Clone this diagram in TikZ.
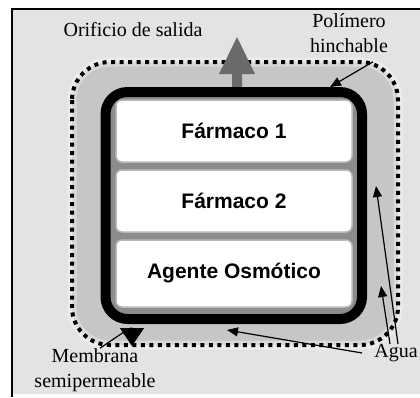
\documentclass[tikz,border=0pt]{standalone}
\usepackage{fontspec}
\setmainfont{Liberation Serif}
\setsansfont{Liberation Sans}
\usetikzlibrary{arrows.meta}
\definecolor{salida}{HTML}{6A6A6A}
\begin{document}
\begin{tikzpicture}[x=1pt,y=-1pt,
  farmaco/.style={draw=gray!55,line width=1.5pt,fill=white,rounded corners=6pt,minimum width=236pt,inner sep=0pt,font=\sffamily\bfseries\fontsize{21}{21}\selectfont},
  etiqueta/.style={font=\fontsize{20}{25}\selectfont,align=center,inner sep=0pt},
  flecha/.style={line width=1.2pt,-{Triangle[length=11pt,width=9pt]}}]
\useasboundingbox (0,0) rectangle (420,397);
\clip (0,0) rectangle (420,397);
\fill[gray!22] (12,9) rectangle (420,394);
\draw[line width=1.5pt] (12,397) |- (420,9);
\fill[gray!45,rounded corners=38pt] (72,62) rectangle (398,345);
\draw[white,opacity=.35,line width=9pt,rounded corners=38pt] (72,62) rectangle (398,345);
\draw[line width=4pt,dash pattern=on 4pt off 4.5pt,rounded corners=38pt] (72,62) rectangle (398,345);
\fill[salida] (232,89) -- (232,74) -- (219,74) -- (237,37) -- (255,74) -- (242,74) -- (242,89) -- cycle;
\draw[line width=10pt,fill=gray!90,rounded corners=22pt] (105.5,92) rectangle (362,319);
\node[farmaco,minimum height=62pt] (f1) at (234,131) {Fármaco 1};
\node[farmaco,minimum height=62pt] (f2) at (234,201) {Fármaco 2};
\node[farmaco,minimum height=67pt] (f3) at (234,273.5) {Agente Osmótico};
\node[etiqueta] (orificio) at (133,30) {Orificio de salida};
\node[etiqueta] (polimero) at (349,33) {Polímero\\hinchable};
\node[etiqueta] (membrana) at (95,370) {Membrana\\semipermeable};
\node[etiqueta] (agua) at (396,353) {Agua};
\coordinate (esquina) at (330,87);
\coordinate (poro) at (132,346);
\coordinate (fondo) at (227,330);
\coordinate (lado) at (381,286);
\coordinate (arriba) at (376,186);
\draw[flecha] ([shift={(-15,9)}]polimero.south east) -- (esquina);
\draw[flecha,-{Triangle[length=18pt,width=24pt]}] ([xshift=5pt]membrana.north) .. controls (118,336) and (132,326) .. (poro);
\draw[flecha] ([xshift=-12pt]agua.west) -- (fondo);
\draw[flecha] ([xshift=-6pt]agua.north) -- (lado);
\draw[flecha] ([xshift=2pt]agua.north) -- (arriba);
\end{tikzpicture}
\end{document}
